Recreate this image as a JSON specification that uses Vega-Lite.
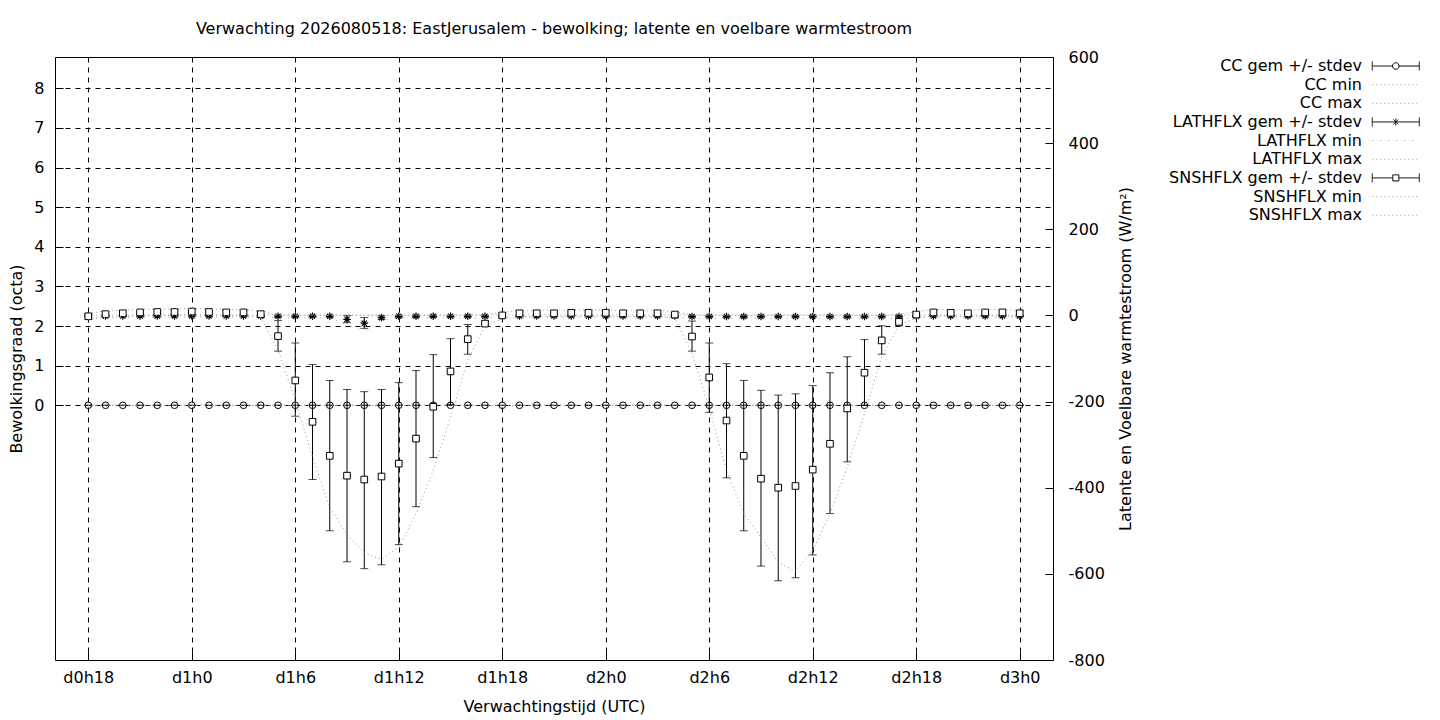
{
  "$schema": "https://vega.github.io/schema/vega-lite/v6.json",
  "width": 998,
  "height": 603,
  "autosize": {"type": "none"},
  "padding": {"left": 55, "top": 57, "right": 387, "bottom": 60},
  "background": "white",
  "title": {"text": "Verwachting 2026080518: EastJerusalem - bewolking; latente en voelbare warmtestroom", "frame": "group", "anchor": "middle", "offset": 12, "fontSize": 16, "fontWeight": "normal", "font": "DejaVu Sans", "color": "black"},
  "config": {
    "font": "DejaVu Sans",
    "view": {"stroke": "black", "strokeWidth": 1},
    "axis": {"labelFont": "DejaVu Sans", "labelFontSize": 16, "labelColor": "black", "titleFont": "DejaVu Sans", "titleFontSize": 16, "titleFontWeight": "normal", "titleColor": "black", "domain": false, "ticks": true, "tickColor": "black", "tickWidth": 1, "tickSize": -8, "gridColor": "black", "gridDash": [5, 5], "gridOpacity": 1, "gridWidth": 1, "labelFlush": false},
    "legend": {"orient": "none", "legendX": 1332.3, "legendY": 0.5, "padding": 0, "rowPadding": 1.65, "labelFont": "DejaVu Sans", "labelFontSize": 16, "labelColor": "black", "labelAlign": "right", "labelOffset": -42.3, "labelLimit": 400, "symbolSize": 256, "symbolStrokeWidth": 1, "symbolOpacity": 1, "symbolFillColor": "transparent"}
  },
  "datasets": {
    "d": [
      {"h":18,"cc":0,"ccl":0,"cch":0,"ccmin":0,"ccmax":0,"lh":-1.5,"lhl":-3.5,"lhh":0.5,"lhmin":-4,"lhmax":1,"sh":-2,"shl":-8,"shh":4,"shmin":-10,"shmax":5},
      {"h":19,"cc":0,"ccl":0,"cch":0,"ccmin":0,"ccmax":0,"lh":-1.5,"lhl":-3.5,"lhh":0.5,"lhmin":-4,"lhmax":1,"sh":3,"shl":-3,"shh":9,"shmin":-5,"shmax":10},
      {"h":20,"cc":0,"ccl":0,"cch":0,"ccmin":0,"ccmax":0,"lh":-1.5,"lhl":-3.5,"lhh":0.5,"lhmin":-4,"lhmax":1,"sh":5,"shl":-1,"shh":11,"shmin":-3,"shmax":12},
      {"h":21,"cc":0,"ccl":0,"cch":0,"ccmin":0,"ccmax":0,"lh":-1.5,"lhl":-3.5,"lhh":0.5,"lhmin":-4,"lhmax":1,"sh":7,"shl":1,"shh":13,"shmin":-1,"shmax":14},
      {"h":22,"cc":0,"ccl":0,"cch":0,"ccmin":0,"ccmax":0,"lh":-1.5,"lhl":-3.5,"lhh":0.5,"lhmin":-4,"lhmax":1,"sh":8,"shl":2,"shh":14,"shmin":0,"shmax":15},
      {"h":23,"cc":0,"ccl":0,"cch":0,"ccmin":0,"ccmax":0,"lh":-1.5,"lhl":-3.5,"lhh":0.5,"lhmin":-4,"lhmax":1,"sh":8,"shl":2,"shh":14,"shmin":0,"shmax":15},
      {"h":24,"cc":0,"ccl":0,"cch":0,"ccmin":0,"ccmax":0,"lh":-1.5,"lhl":-3.5,"lhh":0.5,"lhmin":-4,"lhmax":1,"sh":9,"shl":3,"shh":15,"shmin":1,"shmax":16},
      {"h":25,"cc":0,"ccl":0,"cch":0,"ccmin":0,"ccmax":0,"lh":-1.5,"lhl":-3.5,"lhh":0.5,"lhmin":-4,"lhmax":1,"sh":8,"shl":2,"shh":14,"shmin":0,"shmax":15},
      {"h":26,"cc":0,"ccl":0,"cch":0,"ccmin":0,"ccmax":0,"lh":-1.5,"lhl":-3.5,"lhh":0.5,"lhmin":-4,"lhmax":1,"sh":7,"shl":1,"shh":13,"shmin":-1,"shmax":14},
      {"h":27,"cc":0,"ccl":0,"cch":0,"ccmin":0,"ccmax":0,"lh":-1.5,"lhl":-3.5,"lhh":0.5,"lhmin":-4,"lhmax":1,"sh":7,"shl":1,"shh":13,"shmin":-1,"shmax":14},
      {"h":28,"cc":0,"ccl":0,"cch":0,"ccmin":0,"ccmax":0,"lh":-1.5,"lhl":-3.5,"lhh":0.5,"lhmin":-4,"lhmax":1,"sh":3,"shl":-3,"shh":9,"shmin":-5,"shmax":10},
      {"h":29,"cc":0,"ccl":0,"cch":0,"ccmin":0,"ccmax":0,"lh":-2,"lhl":-4.5,"lhh":0.5,"lhmin":-6,"lhmax":1,"sh":-48,"shl":-83,"shh":-12,"shmin":-80,"shmax":0},
      {"h":30,"cc":0,"ccl":0,"cch":0,"ccmin":0,"ccmax":0,"lh":-2,"lhl":-4.5,"lhh":0.5,"lhmin":-6,"lhmax":1,"sh":-151,"shl":-234,"shh":-64,"shmin":-197,"shmax":0},
      {"h":31,"cc":0,"ccl":0,"cch":0,"ccmin":0,"ccmax":0,"lh":-2,"lhl":-4.5,"lhh":0.5,"lhmin":-6,"lhmax":1,"sh":-247,"shl":-381,"shh":-114,"shmin":-329,"shmax":0},
      {"h":32,"cc":0,"ccl":0,"cch":0,"ccmin":0,"ccmax":0,"lh":-2,"lhl":-4.5,"lhh":0.5,"lhmin":-6,"lhmax":1,"sh":-326,"shl":-500,"shh":-151,"shmin":-446,"shmax":0},
      {"h":33,"cc":0,"ccl":0,"cch":0,"ccmin":0,"ccmax":0,"lh":-9,"lhl":-17,"lhh":0,"lhmin":-22,"lhmax":1,"sh":-372,"shl":-572,"shh":-172,"shmin":-508,"shmax":0},
      {"h":34,"cc":0,"ccl":0,"cch":0,"ccmin":0,"ccmax":0,"lh":-18,"lhl":-30,"lhh":-5,"lhmin":-36,"lhmax":1,"sh":-381,"shl":-588,"shh":-177,"shmin":-551,"shmax":0},
      {"h":35,"cc":0,"ccl":0,"cch":0,"ccmin":0,"ccmax":0,"lh":-5,"lhl":-9,"lhh":-1,"lhmin":-12,"lhmax":1,"sh":-374,"shl":-579,"shh":-172,"shmin":-566,"shmax":0},
      {"h":36,"cc":0,"ccl":0,"cch":0,"ccmin":0,"ccmax":0,"lh":-2,"lhl":-4.5,"lhh":0.5,"lhmin":-6,"lhmax":1,"sh":-344,"shl":-532,"shh":-156,"shmin":-538,"shmax":0},
      {"h":37,"cc":0,"ccl":0,"cch":0,"ccmin":0,"ccmax":0,"lh":-2,"lhl":-4.5,"lhh":0.5,"lhmin":-6,"lhmax":1,"sh":-286,"shl":-444,"shh":-128,"shmin":-461,"shmax":0},
      {"h":38,"cc":0,"ccl":0,"cch":0,"ccmin":0,"ccmax":0,"lh":-2,"lhl":-4.5,"lhh":0.5,"lhmin":-6,"lhmax":1,"sh":-212,"shl":-330,"shh":-91,"shmin":-360,"shmax":0},
      {"h":39,"cc":0,"ccl":0,"cch":0,"ccmin":0,"ccmax":0,"lh":-2,"lhl":-4.5,"lhh":0.5,"lhmin":-6,"lhmax":1,"sh":-130,"shl":-207,"shh":-54,"shmin":-236,"shmax":0},
      {"h":40,"cc":0,"ccl":0,"cch":0,"ccmin":0,"ccmax":0,"lh":-2,"lhl":-4.5,"lhh":0.5,"lhmin":-6,"lhmax":1,"sh":-55,"shl":-90,"shh":-21,"shmin":-104,"shmax":0},
      {"h":41,"cc":0,"ccl":0,"cch":0,"ccmin":0,"ccmax":0,"lh":-2,"lhl":-4.5,"lhh":0.5,"lhmin":-6,"lhmax":1,"sh":-19,"shl":-25,"shh":-13,"shmin":-24,"shmax":2},
      {"h":42,"cc":0,"ccl":0,"cch":0,"ccmin":0,"ccmax":0,"lh":-1.5,"lhl":-3.5,"lhh":0.5,"lhmin":-4,"lhmax":1,"sh":0,"shl":-6,"shh":6,"shmin":-8,"shmax":7},
      {"h":43,"cc":0,"ccl":0,"cch":0,"ccmin":0,"ccmax":0,"lh":-1.5,"lhl":-3.5,"lhh":0.5,"lhmin":-4,"lhmax":1,"sh":5,"shl":-1,"shh":11,"shmin":-3,"shmax":12},
      {"h":44,"cc":0,"ccl":0,"cch":0,"ccmin":0,"ccmax":0,"lh":-1.5,"lhl":-3.5,"lhh":0.5,"lhmin":-4,"lhmax":1,"sh":5,"shl":-1,"shh":11,"shmin":-3,"shmax":12},
      {"h":45,"cc":0,"ccl":0,"cch":0,"ccmin":0,"ccmax":0,"lh":-1.5,"lhl":-3.5,"lhh":0.5,"lhmin":-4,"lhmax":1,"sh":5,"shl":-1,"shh":11,"shmin":-3,"shmax":12},
      {"h":46,"cc":0,"ccl":0,"cch":0,"ccmin":0,"ccmax":0,"lh":-1.5,"lhl":-3.5,"lhh":0.5,"lhmin":-4,"lhmax":1,"sh":6,"shl":0,"shh":12,"shmin":-2,"shmax":13},
      {"h":47,"cc":0,"ccl":0,"cch":0,"ccmin":0,"ccmax":0,"lh":-1.5,"lhl":-3.5,"lhh":0.5,"lhmin":-4,"lhmax":1,"sh":6,"shl":0,"shh":12,"shmin":-2,"shmax":13},
      {"h":48,"cc":0,"ccl":0,"cch":0,"ccmin":0,"ccmax":0,"lh":-1.5,"lhl":-3.5,"lhh":0.5,"lhmin":-4,"lhmax":1,"sh":6,"shl":0,"shh":12,"shmin":-2,"shmax":13},
      {"h":49,"cc":0,"ccl":0,"cch":0,"ccmin":0,"ccmax":0,"lh":-1.5,"lhl":-3.5,"lhh":0.5,"lhmin":-4,"lhmax":1,"sh":5,"shl":-1,"shh":11,"shmin":-3,"shmax":12},
      {"h":50,"cc":0,"ccl":0,"cch":0,"ccmin":0,"ccmax":0,"lh":-1.5,"lhl":-3.5,"lhh":0.5,"lhmin":-4,"lhmax":1,"sh":5,"shl":-1,"shh":11,"shmin":-3,"shmax":12},
      {"h":51,"cc":0,"ccl":0,"cch":0,"ccmin":0,"ccmax":0,"lh":-1.5,"lhl":-3.5,"lhh":0.5,"lhmin":-4,"lhmax":1,"sh":5,"shl":-1,"shh":11,"shmin":-3,"shmax":12},
      {"h":52,"cc":0,"ccl":0,"cch":0,"ccmin":0,"ccmax":0,"lh":-1.5,"lhl":-3.5,"lhh":0.5,"lhmin":-4,"lhmax":1,"sh":2,"shl":-4,"shh":8,"shmin":-6,"shmax":9},
      {"h":53,"cc":0,"ccl":0,"cch":0,"ccmin":0,"ccmax":0,"lh":-2.5,"lhl":-5,"lhh":0,"lhmin":-7,"lhmax":1,"sh":-49,"shl":-83,"shh":-13,"shmin":-88,"shmax":0},
      {"h":54,"cc":0,"ccl":0,"cch":0,"ccmin":0,"ccmax":0,"lh":-2.5,"lhl":-5,"lhh":0,"lhmin":-7,"lhmax":1,"sh":-144,"shl":-225,"shh":-64,"shmin":-215,"shmax":0},
      {"h":55,"cc":0,"ccl":0,"cch":0,"ccmin":0,"ccmax":0,"lh":-2.5,"lhl":-5,"lhh":0,"lhmin":-7,"lhmax":1,"sh":-244,"shl":-377,"shh":-112,"shmin":-360,"shmax":0},
      {"h":56,"cc":0,"ccl":0,"cch":0,"ccmin":0,"ccmax":0,"lh":-2.5,"lhl":-5,"lhh":0,"lhmin":-7,"lhmax":1,"sh":-326,"shl":-500,"shh":-151,"shmin":-460,"shmax":0},
      {"h":57,"cc":0,"ccl":0,"cch":0,"ccmin":0,"ccmax":0,"lh":-2.5,"lhl":-5,"lhh":0,"lhmin":-7,"lhmax":1,"sh":-379,"shl":-582,"shh":-174,"shmin":-515,"shmax":0},
      {"h":58,"cc":0,"ccl":0,"cch":0,"ccmin":0,"ccmax":0,"lh":-2.5,"lhl":-5,"lhh":0,"lhmin":-7,"lhmax":1,"sh":-400,"shl":-616,"shh":-185,"shmin":-573,"shmax":0},
      {"h":59,"cc":0,"ccl":0,"cch":0,"ccmin":0,"ccmax":0,"lh":-2.5,"lhl":-5,"lhh":0,"lhmin":-7,"lhmax":1,"sh":-396,"shl":-609,"shh":-182,"shmin":-594,"shmax":0},
      {"h":60,"cc":0,"ccl":0,"cch":0,"ccmin":0,"ccmax":0,"lh":-2.5,"lhl":-5,"lhh":0,"lhmin":-7,"lhmax":1,"sh":-358,"shl":-556,"shh":-163,"shmin":-546,"shmax":0},
      {"h":61,"cc":0,"ccl":0,"cch":0,"ccmin":0,"ccmax":0,"lh":-2.5,"lhl":-5,"lhh":0,"lhmin":-7,"lhmax":1,"sh":-298,"shl":-460,"shh":-133,"shmin":-461,"shmax":0},
      {"h":62,"cc":0,"ccl":0,"cch":0,"ccmin":0,"ccmax":0,"lh":-2.5,"lhl":-5,"lhh":0,"lhmin":-7,"lhmax":1,"sh":-216,"shl":-340,"shh":-96,"shmin":-352,"shmax":0},
      {"h":63,"cc":0,"ccl":0,"cch":0,"ccmin":0,"ccmax":0,"lh":-2.5,"lhl":-5,"lhh":0,"lhmin":-7,"lhmax":1,"sh":-133,"shl":-209,"shh":-56,"shmin":-228,"shmax":0},
      {"h":64,"cc":0,"ccl":0,"cch":0,"ccmin":0,"ccmax":0,"lh":-2.5,"lhl":-5,"lhh":0,"lhmin":-7,"lhmax":1,"sh":-58,"shl":-90,"shh":-24,"shmin":-96,"shmax":0},
      {"h":65,"cc":0,"ccl":0,"cch":0,"ccmin":0,"ccmax":0,"lh":-2.5,"lhl":-5,"lhh":0,"lhmin":-7,"lhmax":1,"sh":-15,"shl":-24,"shh":-8,"shmin":-22,"shmax":2},
      {"h":66,"cc":0,"ccl":0,"cch":0,"ccmin":0,"ccmax":0,"lh":-1.5,"lhl":-3.5,"lhh":0.5,"lhmin":-4,"lhmax":1,"sh":2,"shl":-4,"shh":8,"shmin":-6,"shmax":9},
      {"h":67,"cc":0,"ccl":0,"cch":0,"ccmin":0,"ccmax":0,"lh":-1.5,"lhl":-3.5,"lhh":0.5,"lhmin":-4,"lhmax":1,"sh":7,"shl":1,"shh":13,"shmin":-1,"shmax":14},
      {"h":68,"cc":0,"ccl":0,"cch":0,"ccmin":0,"ccmax":0,"lh":-1.5,"lhl":-3.5,"lhh":0.5,"lhmin":-4,"lhmax":1,"sh":6,"shl":0,"shh":12,"shmin":-2,"shmax":13},
      {"h":69,"cc":0,"ccl":0,"cch":0,"ccmin":0,"ccmax":0,"lh":-1.5,"lhl":-3.5,"lhh":0.5,"lhmin":-4,"lhmax":1,"sh":5,"shl":-1,"shh":11,"shmin":-3,"shmax":12},
      {"h":70,"cc":0,"ccl":0,"cch":0,"ccmin":0,"ccmax":0,"lh":-1.5,"lhl":-3.5,"lhh":0.5,"lhmin":-4,"lhmax":1,"sh":7,"shl":1,"shh":13,"shmin":-1,"shmax":14},
      {"h":71,"cc":0,"ccl":0,"cch":0,"ccmin":0,"ccmax":0,"lh":-1.5,"lhl":-3.5,"lhh":0.5,"lhmin":-4,"lhmax":1,"sh":7,"shl":1,"shh":13,"shmin":-1,"shmax":14},
      {"h":72,"cc":0,"ccl":0,"cch":0,"ccmin":0,"ccmax":0,"lh":-1.5,"lhl":-3.5,"lhh":0.5,"lhmin":-4,"lhmax":1,"sh":5,"shl":-1,"shh":11,"shmin":-3,"shmax":12}
    ],
    "lg": [
      {"series": "CC gem +/- stdev"}, {"series": "CC min"}, {"series": "CC max"},
      {"series": "LATHFLX gem +/- stdev"}, {"series": "LATHFLX min"}, {"series": "LATHFLX max"},
      {"series": "SNSHFLX gem +/- stdev"}, {"series": "SNSHFLX min"}, {"series": "SNSHFLX max"}
    ]
  },
  "data": {"name": "d"},
  "encoding": {
    "x": {"field": "h", "type": "quantitative", "scale": {"domain": [16.07, 73.93], "nice": false, "zero": false},
      "axis": {"values": [18, 24, 30, 36, 42, 48, 54, 60, 66, 72], "labelExpr": "'d' + floor(datum.value / 24) + 'h' + (datum.value % 24)", "grid": true, "labelPadding": 17, "title": "Verwachtingstijd (UTC)", "titlePadding": 13}}
  },
  "layer": [
    {
      "layer": [
        {"mark": {"type": "tick", "orient": "horizontal", "size": 8, "thickness": 1, "color": "black"},
         "encoding": {"y": {"field": "ccl", "type": "quantitative", "title": "Bewolkingsgraad (octa)", "scale": {"domain": [-6.428, 8.789], "nice": false, "zero": false},
           "axis": {"orient": "left", "values": [0, 1, 2, 3, 4, 5, 6, 7, 8], "format": "d", "grid": true, "labelPadding": 19, "titlePadding": 9}}}},
        {"mark": {"type": "tick", "orient": "horizontal", "size": 8, "thickness": 1, "color": "black"},
         "encoding": {"y": {"field": "cch", "type": "quantitative", "title": "Bewolkingsgraad (octa)"}}},
        {"mark": {"type": "point", "shape": "circle", "filled": false, "stroke": "black", "strokeWidth": 1, "size": 44, "opacity": 1},
         "encoding": {"y": {"field": "cc", "type": "quantitative", "title": "Bewolkingsgraad (octa)"}}},
        {"mark": {"type": "line", "stroke": "#999999", "strokeWidth": 1, "strokeDash": [1, 3]},
         "encoding": {"y": {"field": "ccmin", "type": "quantitative", "title": "Bewolkingsgraad (octa)"}}},
        {"mark": {"type": "line", "stroke": "#999999", "strokeWidth": 1, "strokeDash": [1, 3]},
         "encoding": {"y": {"field": "ccmax", "type": "quantitative", "title": "Bewolkingsgraad (octa)"}}},
        {"data": {"name": "lg"},
         "mark": {"type": "point", "filled": false, "strokeWidth": 1},
         "encoding": {
           "shape": {"field": "series", "type": "nominal", "legend": {"title": null},
             "scale": {"domain": ["CC gem +/- stdev", "CC min", "CC max", "LATHFLX gem +/- stdev", "LATHFLX min", "LATHFLX max", "SNSHFLX gem +/- stdev", "SNSHFLX min", "SNSHFLX max"],
               "range": [
                 "M-2.94,-0.56L-2.94,0.56M2.94,-0.56L2.94,0.56M-2.94,0L-0.41,0M0.41,0L2.94,0M-0.41,0A0.41,0.41,0,1,1,0.41,0A0.41,0.41,0,1,1,-0.41,0Z",
                 "M-2.94,0L2.7,0",
                 "M-2.94,0L2.7,0",
                 "M-2.94,-0.56L-2.94,0.56M2.94,-0.56L2.94,0.56M-2.94,0L2.94,0M0,-0.44L0,0.44M-0.31,-0.31L0.31,0.31M-0.31,0.31L0.31,-0.31",
                 "M-2.94,0L2.7,0",
                 "M-2.94,0L2.7,0",
                 "M-2.94,-0.56L-2.94,0.56M2.94,-0.56L2.94,0.56M-2.94,0L-0.38,0M0.38,0L2.94,0M-0.38,-0.38L0.38,-0.38L0.38,0.38L-0.38,0.38Z",
                 "M-2.94,0L2.7,0",
                 "M-2.94,0L2.7,0"]}},
           "stroke": {"field": "series", "type": "nominal", "legend": {"title": null},
             "scale": {"domain": ["CC gem +/- stdev", "CC min", "CC max", "LATHFLX gem +/- stdev", "LATHFLX min", "LATHFLX max", "SNSHFLX gem +/- stdev", "SNSHFLX min", "SNSHFLX max"],
               "range": ["black", "#999999", "#999999", "black", "#999999", "#999999", "black", "#999999", "#999999"]}},
           "strokeDash": {"field": "series", "type": "nominal", "legend": {"title": null},
             "scale": {"domain": ["CC gem +/- stdev", "CC min", "CC max", "LATHFLX gem +/- stdev", "LATHFLX min", "LATHFLX max", "SNSHFLX gem +/- stdev", "SNSHFLX min", "SNSHFLX max"],
               "range": [[1, 0], [1, 3], [1, 3], [1, 0], [1, 7], [1, 3], [1, 0], [1, 3], [1, 3]]}}
         }}
      ]
    },
    {
      "layer": [
        {"mark": {"type": "rule", "color": "black", "strokeWidth": 1},
         "encoding": {"y": {"field": "lhl", "type": "quantitative", "title": "Latente en Voelbare warmtestroom (W/m²)", "scale": {"domain": [-800, 600], "nice": false, "zero": false},
           "axis": {"orient": "right", "grid": false, "values": [600, 400, 200, 0, -200, -400, -600, -800],
             "labelExpr": "datum.value < 0 ? '-' + abs(round(datum.value)) : '' + round(datum.value)",
             "labelPadding": 23, "titleAngle": 270, "titlePadding": 29}},
           "y2": {"field": "lhh"}}},
        {"mark": {"type": "tick", "orient": "horizontal", "size": 8, "thickness": 1, "color": "black"},
         "encoding": {"y": {"field": "lhl", "type": "quantitative", "title": "Latente en Voelbare warmtestroom (W/m²)"}}},
        {"mark": {"type": "tick", "orient": "horizontal", "size": 8, "thickness": 1, "color": "black"},
         "encoding": {"y": {"field": "lhh", "type": "quantitative", "title": "Latente en Voelbare warmtestroom (W/m²)"}}},
        {"mark": {"type": "point", "shape": "M-1,0L1,0M0,-1L0,1M-0.7,-0.7L0.7,0.7M-0.7,0.7L0.7,-0.7", "filled": false, "stroke": "black", "strokeWidth": 1.2, "size": 56, "opacity": 1},
         "encoding": {"y": {"field": "lh", "type": "quantitative", "title": "Latente en Voelbare warmtestroom (W/m²)"}}},
        {"mark": {"type": "line", "stroke": "#999999", "strokeWidth": 1, "strokeDash": [1, 7]},
         "encoding": {"y": {"field": "lhmin", "type": "quantitative", "title": "Latente en Voelbare warmtestroom (W/m²)"}}},
        {"mark": {"type": "line", "stroke": "#999999", "strokeWidth": 1, "strokeDash": [1, 3]},
         "encoding": {"y": {"field": "lhmax", "type": "quantitative", "title": "Latente en Voelbare warmtestroom (W/m²)"}}},
        {"mark": {"type": "rule", "color": "black", "strokeWidth": 1},
         "encoding": {"y": {"field": "shl", "type": "quantitative", "title": "Latente en Voelbare warmtestroom (W/m²)"}, "y2": {"field": "shh"}}},
        {"mark": {"type": "tick", "orient": "horizontal", "size": 8, "thickness": 1, "color": "black"},
         "encoding": {"y": {"field": "shl", "type": "quantitative", "title": "Latente en Voelbare warmtestroom (W/m²)"}}},
        {"mark": {"type": "tick", "orient": "horizontal", "size": 8, "thickness": 1, "color": "black"},
         "encoding": {"y": {"field": "shh", "type": "quantitative", "title": "Latente en Voelbare warmtestroom (W/m²)"}}},
        {"mark": {"type": "point", "shape": "square", "filled": true, "fill": "white", "stroke": "black", "strokeWidth": 1, "size": 44, "opacity": 1},
         "encoding": {"y": {"field": "sh", "type": "quantitative", "title": "Latente en Voelbare warmtestroom (W/m²)"}}},
        {"mark": {"type": "line", "stroke": "#999999", "strokeWidth": 1, "strokeDash": [1, 3]},
         "encoding": {"y": {"field": "shmin", "type": "quantitative", "title": "Latente en Voelbare warmtestroom (W/m²)"}}},
        {"mark": {"type": "line", "stroke": "#999999", "strokeWidth": 1, "strokeDash": [1, 3]},
         "encoding": {"y": {"field": "shmax", "type": "quantitative", "title": "Latente en Voelbare warmtestroom (W/m²)"}}}
      ]
    }
  ],
  "resolve": {"scale": {"y": "independent"}}
}
